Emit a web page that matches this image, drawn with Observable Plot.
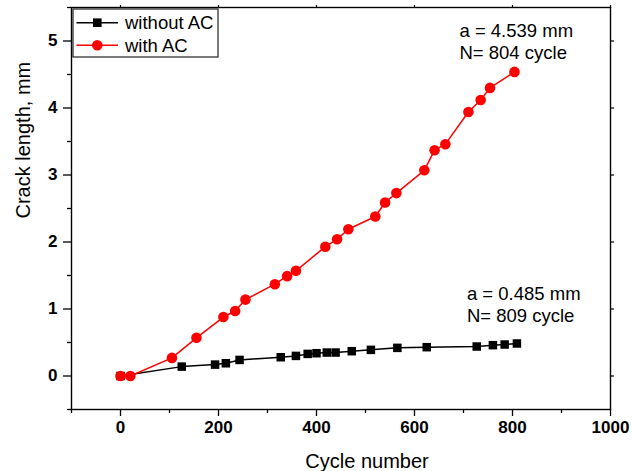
<!DOCTYPE html>
<html>
<head>
<meta charset="utf-8">
<script src="https://cdn.jsdelivr.net/npm/d3@7"></script>
<script src="https://cdn.jsdelivr.net/npm/@observablehq/plot@0.6"></script>
<style>
  html, body { margin: 0; padding: 0; background: #fff; }
  #chart { position: relative; width: 632px; height: 471px; }
</style>
</head>
<body>
<div id="chart"></div>
<script>
// Series: without AC (black squares)
const cyclesWithout = [0, 125, 193, 215, 243, 327, 358, 382, 400, 421, 439, 472, 511, 565, 625, 727, 760, 784, 809];
const crackWithout  = [0, 0.14, 0.17, 0.19, 0.24, 0.28, 0.30, 0.33, 0.34, 0.35, 0.35, 0.37, 0.39, 0.42, 0.43, 0.44, 0.46, 0.47, 0.485];

// Series: with AC (red circles)
const cyclesWith = [0, 20, 105, 155, 210, 234, 255, 315, 340, 358, 418, 442, 465, 520, 540, 563, 620, 641, 663, 710, 735, 754, 804];
const crackWith  = [0, 0, 0.27, 0.57, 0.88, 0.97, 1.14, 1.37, 1.49, 1.57, 1.93, 2.04, 2.19, 2.38, 2.59, 2.73, 3.07, 3.37, 3.46, 3.94, 4.12, 4.30, 4.539];

const seriesNames = ["without AC", "with AC"];
const seriesColors = ["#000000", "#ff0000"];

const xMajorTicks = [0, 200, 400, 600, 800, 1000];
const xMinorTicks = [-100, 100, 300, 500, 700, 900];
const yMajorTicks = [0, 1, 2, 3, 4, 5];
const yMinorTicks = [-0.5, 0.5, 1.5, 2.5, 3.5, 4.5, 5.5];

const xLabel = "Cycle number";
const yLabel = "Crack length, mm";

const annotations = [
  {x: 804, y: 4.539, text: "a = 4.539 mm\nN= 804 cycle"},
  {x: 809, y: 0.485, text: "a = 0.485 mm\nN= 809 cycle"}
];

const without = cyclesWithout.map((c, i) => ({x: c, y: crackWithout[i]}));
const withAC = cyclesWith.map((c, i) => ({x: c, y: crackWith[i]}));

const font = "'Liberation Sans', Arial, sans-serif";
const fmt = d => String(d);

const plot = Plot.plot({
  width: 632,
  height: 471,
  marginLeft: 71,
  marginRight: 22,
  marginTop: 7,
  marginBottom: 62,
  style: {fontFamily: font, background: "#fff", color: "#000"},
  x: {domain: [-100, 1000]},
  y: {domain: [-0.5, 5.5]},
  marks: [
    // bottom axis
    Plot.axisX({anchor: "bottom", ticks: xMajorTicks, tickFormat: fmt, tickSize: 7, tickPadding: 4, fontSize: 17, fontWeight: "bold", label: null, strokeWidth: 1.3}),
    Plot.axisX({anchor: "bottom", ticks: xMinorTicks, tickSize: 4, text: null, label: null, strokeWidth: 1.3}),
    // top axis
    Plot.axisX({anchor: "top", ticks: xMajorTicks, tickSize: 3, text: null, label: null, strokeWidth: 1.2}),
    // left axis
    Plot.axisY({anchor: "left", ticks: yMajorTicks, tickFormat: fmt, tickSize: 8, tickPadding: 6, fontSize: 17, fontWeight: "bold", label: null, strokeWidth: 1.3}),
    Plot.axisY({anchor: "left", ticks: yMinorTicks, tickSize: 4, text: null, label: null, strokeWidth: 1.3}),
    // right axis
    Plot.axisY({anchor: "right", ticks: yMajorTicks, tickSize: 3, text: null, label: null, strokeWidth: 1.2}),
    Plot.frame({stroke: "#000", strokeWidth: 1.4}),
    // axis titles
    Plot.text([xLabel], {frameAnchor: "bottom", dx: 26, dy: 52, lineAnchor: "middle", fontSize: 20, fill: "#000"}),
    Plot.text([yLabel], {frameAnchor: "left", rotate: -90, dx: -48, dy: 10, lineAnchor: "middle", fontSize: 20, fill: "#000"}),
    // series
    Plot.line(without, {x: "x", y: "y", stroke: seriesColors[0], strokeWidth: 1.5}),
    Plot.dot(without, {x: "x", y: "y", symbol: "square", r: 4.8, fill: seriesColors[0], stroke: "none"}),
    Plot.line(withAC, {x: "x", y: "y", stroke: seriesColors[1], strokeWidth: 1.5}),
    Plot.dot(withAC, {x: "x", y: "y", symbol: "circle", r: 5.3, fill: seriesColors[1], stroke: "none"}),
    // annotations
    Plot.text(annotations.slice(0, 1), {x: "x", y: "y", text: "text", textAnchor: "start", lineAnchor: "middle", dx: -55, dy: -31, fontSize: 18.5, lineHeight: 1.2, fill: "#000"}),
    Plot.text(annotations.slice(1), {x: "x", y: "y", text: "text", textAnchor: "start", lineAnchor: "middle", dx: -50, dy: -40, fontSize: 18.5, lineHeight: 1.2, fill: "#000"})
  ]
});

document.getElementById("chart").appendChild(plot);

// Legend drawn into the SVG (top-left inside the frame)
const svg = d3.select(plot);
const lg = svg.append("g").attr("transform", "translate(73,9)")
  .style("font-family", font).attr("text-anchor", "start");
lg.append("rect").attr("x", 0).attr("y", 0).attr("width", 145).attr("height", 48)
  .attr("fill", "#fff").attr("stroke", "#222").attr("stroke-width", 1.2);
seriesNames.forEach((name, i) => {
  const cy = 13.7 + i * 22.5;
  lg.append("line").attr("x1", 3.5).attr("x2", 45).attr("y1", cy).attr("y2", cy)
    .attr("stroke", seriesColors[i]).attr("stroke-width", 1.5);
  if (i === 0) {
    lg.append("rect").attr("x", 24.3 - 4.3).attr("y", cy - 4.3).attr("width", 8.6).attr("height", 8.6).attr("fill", seriesColors[i]);
  } else {
    lg.append("circle").attr("cx", 24.3).attr("cy", cy).attr("r", 5.3).attr("fill", seriesColors[i]);
  }
  lg.append("text").attr("x", 52).attr("y", cy).attr("dy", "0.35em")
    .attr("text-anchor", "start")
    .attr("font-size", 18.5).attr("fill", "#000").text(name);
});
</script>
</body>
</html>
